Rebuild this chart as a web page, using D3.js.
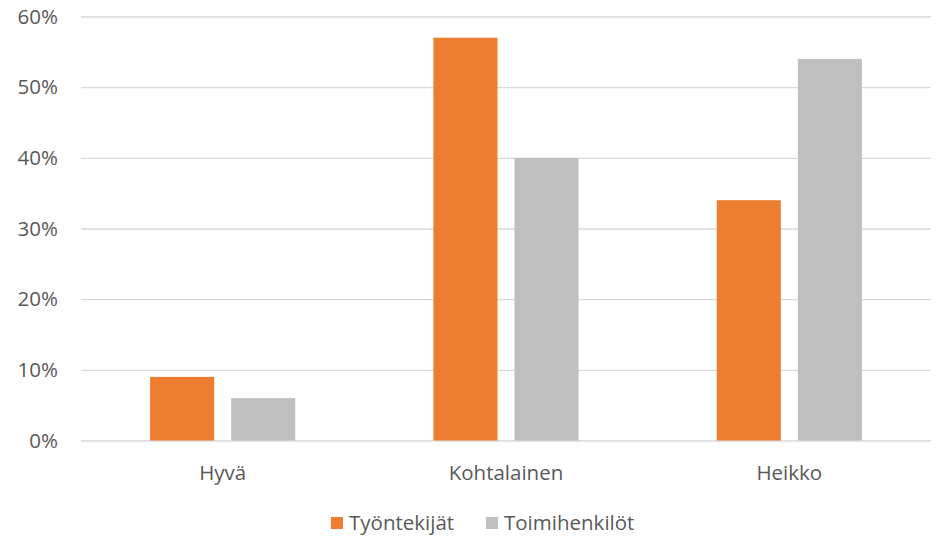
<!DOCTYPE html>
<html>
<head>
<meta charset="utf-8">
<script src="https://cdn.jsdelivr.net/npm/d3@7"></script>
<style>
  body { margin: 0; background: #fff; }
  text { font-family: "Open Sans", "Noto Sans", sans-serif; }
</style>
</head>
<body>
<svg></svg>
<script>
// SVG
var width = 936;
var height = 537;

// Data
var categories = ["Hyvä", "Kohtalainen", "Heikko"];
var series = ["Työntekijät", "Toimihenkilöt"];
var tyontekijat = [0.09, 0.57, 0.34];
var toimihenkilot = [0.06, 0.40, 0.54];
var yTicks = [0, 0.1, 0.2, 0.3, 0.4, 0.5, 0.6];
var colors = ["#ed7d31", "#bfbfbf"];

var values = [tyontekijat, toimihenkilot];

// Scales
var x0 = d3.scaleBand()
    .domain(categories)
    .range([81, 931]);

var x1 = d3.scaleBand()
    .domain(series)
    .range([0, x0.bandwidth()])
    .paddingInner(0.21)
    .paddingOuter(0.852);

var yScale = d3.scaleLinear()
    .domain([0, 0.6])
    .range([440.5, 16.5]);

var svg = d3.select("svg")
    .attr("width", width)
    .attr("height", height);

// Gridlines
var yAxis = d3.axisLeft(yScale)
    .tickValues(yTicks)
    .tickFormat(d3.format(".0%"))
    .tickSize(-(931 - 81))
    .tickPadding(23);

var gy = svg.append("g")
    .attr("transform", "translate(81,0)")
    .call(yAxis);
gy.select(".domain").remove();
gy.selectAll(".tick line")
    .attr("stroke", "#d9d9d9")
    .attr("stroke-width", 1.3);
gy.selectAll(".tick text")
    .attr("fill", "#595959")
    .attr("font-size", "20.5px");

// Bars
series.forEach(function(s, i) {
    svg.append("g")
        .selectAll("rect")
        .data(categories)
        .join("rect")
        .attr("x", d => x0(d) + x1(s))
        .attr("y", (d, j) => yScale(values[i][j]))
        .attr("width", x1.bandwidth())
        .attr("height", (d, j) => yScale(0) - yScale(values[i][j]))
        .attr("fill", colors[i]);
});

// Category axis
var xAxis = d3.axisBottom(x0)
    .tickSize(0)
    .tickPadding(25);
var gx = svg.append("g")
    .attr("transform", "translate(0,440.5)")
    .call(xAxis);
gx.select(".domain").remove();
gx.selectAll(".tick text")
    .attr("fill", "#595959")
    .attr("font-size", "20.5px");

// Legend
var legendX = [331, 486];
var legend = svg.append("g")
    .selectAll("g")
    .data(series)
    .join("g")
    .attr("transform", (d, i) => "translate(" + legendX[i] + ",517)");

legend.append("rect")
    .attr("width", 12)
    .attr("height", 12)
    .attr("fill", (d, i) => colors[i]);

legend.append("text")
    .attr("x", 18)
    .attr("y", 13)
    .attr("fill", "#595959")
    .attr("font-size", "20.5px")
    .text(d => d);
</script>
</body>
</html>
